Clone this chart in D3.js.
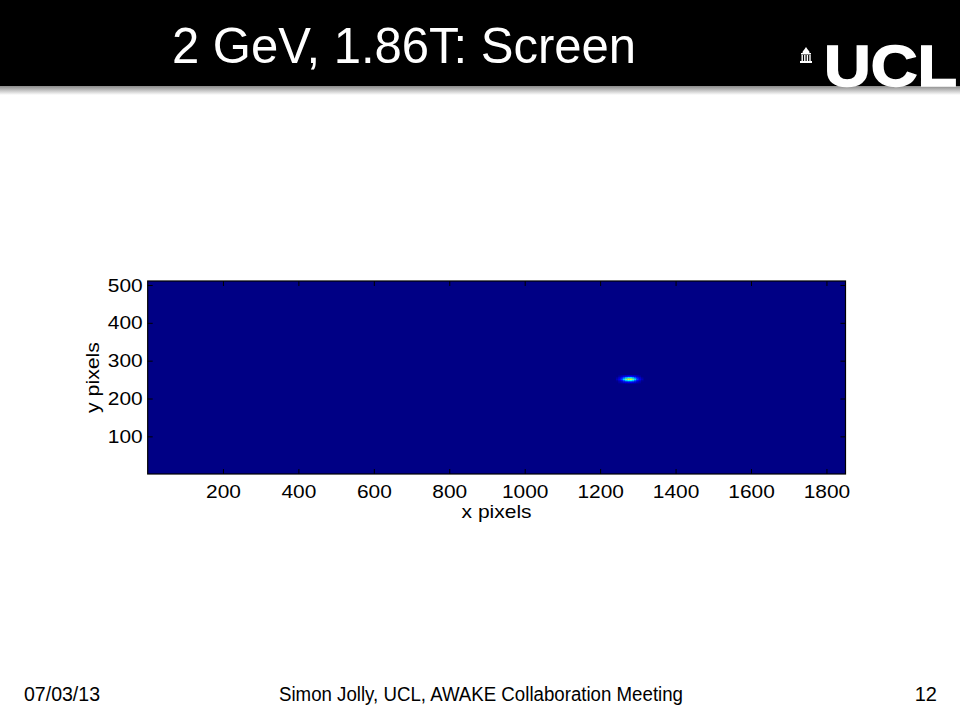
<!DOCTYPE html>
<html>
<head>
<meta charset="utf-8">
<script src="https://cdn.jsdelivr.net/npm/d3@7"></script>
<style>
  html, body { margin: 0; padding: 0; background: #fff; }
  svg { display: block; }
  text { font-family: "Liberation Sans", Arial, Helvetica, sans-serif; }
</style>
</head>
<body>
<svg id="chart" width="960" height="720"></svg>
<script>
// ---------------- data ----------------
const slideTitle = "2 GeV, 1.86T: Screen";
const footerDate = "07/03/13";
const footerText = "Simon Jolly, UCL, AWAKE Collaboration Meeting";
const pageNumber = "12";
const xLabel = "x pixels";
const yLabel = "y pixels";

// screen image size (pixels)
const imageWidth = 1850;
const imageHeight = 510;

const xTicks = [200, 400, 600, 800, 1000, 1200, 1400, 1600, 1800];
const yTicks = [100, 200, 300, 400, 500];

// beam spot: small intensity patch (normalised 0..1), rows top -> bottom
const spotX0 = 1242;      // left edge of patch (image px)
const spotY0 = 241;       // bottom edge of patch (image px)
const spotCellW = 6;      // image px per cell (x)
const spotCellH = 4;      // image px per cell (y)
const spotValues = [
  [0.00, 0.03, 0.06, 0.09, 0.11, 0.13, 0.13, 0.11, 0.09, 0.06, 0.03, 0.00],
  [0.02, 0.07, 0.13, 0.20, 0.28, 0.34, 0.34, 0.28, 0.20, 0.13, 0.07, 0.02],
  [0.05, 0.11, 0.19, 0.34, 0.48, 0.58, 0.58, 0.48, 0.34, 0.19, 0.11, 0.05],
  [0.02, 0.07, 0.13, 0.22, 0.32, 0.38, 0.38, 0.32, 0.22, 0.13, 0.07, 0.02],
  [0.00, 0.03, 0.05, 0.08, 0.10, 0.12, 0.12, 0.10, 0.08, 0.05, 0.03, 0.00]
];

// jet colormap stops
const jetStops = [0, 0.125, 0.375, 0.625, 0.875, 1];
const jetColors = ["#000085", "#0000ff", "#00ffff", "#ffff00", "#ff0000", "#800000"];

// ---------------- drawing ----------------
const svg = d3.select("#chart");

// header band with shadow
const defs = svg.append("defs");
const grad = defs.append("linearGradient").attr("id", "shadow")
  .attr("x1", 0).attr("y1", 0).attr("x2", 0).attr("y2", 1);
grad.append("stop").attr("offset", "0%").attr("stop-color", "#8a8a8a");
grad.append("stop").attr("offset", "100%").attr("stop-color", "#ffffff");

svg.append("rect").attr("x", 0).attr("y", 86).attr("width", 960).attr("height", 9)
  .attr("fill", "url(#shadow)");
svg.append("rect").attr("x", 0).attr("y", 0).attr("width", 960).attr("height", 86)
  .attr("fill", "#000");

svg.append("text")
  .attr("x", 172).attr("y", 63)
  .attr("font-size", 50)
  .attr("fill", "#fff")
  .attr("textLength", 464)
  .attr("lengthAdjust", "spacingAndGlyphs")
  .text(slideTitle);

// UCL logo: little portico icon + letters
const logo = svg.append("g").attr("fill", "#fff");
logo.append("path").attr("d", "M806,47 L808,50 L804,50 Z");
logo.append("path").attr("d", "M802.5,53 A3.5,3.5 0 0 1 809.5,53 Z");
logo.append("rect").attr("x", 801).attr("y", 53).attr("width", 10).attr("height", 1.5);
for (let i = 0; i < 4; i++) {
  logo.append("rect").attr("x", 801.5 + i * 2.6).attr("y", 55).attr("width", 1.4).attr("height", 6);
}
logo.append("rect").attr("x", 800).attr("y", 61).attr("width", 12).attr("height", 2);
logo.append("text")
  .attr("x", 824).attr("y", 86)
  .attr("font-size", 58)
  .attr("font-weight", "bold")
  .attr("stroke", "#fff").attr("stroke-width", 1.5)
  .attr("textLength", 133)
  .attr("lengthAdjust", "spacingAndGlyphs")
  .text("UCL");

// plot
const plotLeft = 147.7, plotRight = 845.5, plotTop = 281, plotBottom = 474;
const x = d3.scaleLinear().domain([0.5, imageWidth + 0.5]).range([plotLeft, plotRight]);
const y = d3.scaleLinear().domain([0.5, imageHeight + 0.5]).range([plotBottom, plotTop]);
const jet = d3.scaleLinear().domain(jetStops).range(jetColors).clamp(true);

const plot = svg.append("g");

// background (all-zero screen)
plot.append("rect")
  .attr("x", x(0.5)).attr("y", y(imageHeight + 0.5))
  .attr("width", x(imageWidth + 0.5) - x(0.5))
  .attr("height", y(0.5) - y(imageHeight + 0.5))
  .attr("fill", jet(0));

// spot cells
const cells = [];
spotValues.forEach((row, r) => {
  row.forEach((v, c) => {
    const x0 = spotX0 + c * spotCellW;
    const yTop = spotY0 + (spotValues.length - r) * spotCellH;
    cells.push({ x0, x1: x0 + spotCellW, y1: yTop, y0: yTop - spotCellH, v });
  });
});
plot.selectAll("rect.cell").data(cells).enter().append("rect")
  .attr("class", "cell")
  .attr("x", d => x(d.x0))
  .attr("y", d => y(d.y1))
  .attr("width", d => x(d.x1) - x(d.x0) + 0.3)
  .attr("height", d => y(d.y0) - y(d.y1) + 0.3)
  .attr("fill", d => jet(d.v))
  .attr("style", "filter: blur(0.6px)");

// axes (MATLAB style: ticks inward on all four sides)
const tickLen = 5;
const axisFont = 19;
const widen = 1.1;
const fmt = d3.format("d");

const xAxisB = d3.axisBottom(x).tickValues(xTicks).tickFormat(fmt).tickSizeInner(-tickLen).tickSizeOuter(0).tickPadding(11);
const xAxisT = d3.axisTop(x).tickValues(xTicks).tickSizeInner(-tickLen).tickSizeOuter(0).tickFormat("");
const yAxisL = d3.axisLeft(y).tickValues(yTicks).tickFormat(fmt).tickSizeInner(-tickLen).tickSizeOuter(0).tickPadding(5);
const yAxisR = d3.axisRight(y).tickValues(yTicks).tickSizeInner(-tickLen).tickSizeOuter(0).tickFormat("");

function styleAxis(g) {
  g.attr("font-size", axisFont).attr("font-family", "'Liberation Sans', Arial, Helvetica, sans-serif");
  g.select(".domain").remove();
  g.selectAll(".tick line").attr("stroke", "#000").attr("stroke-width", 1);
  g.selectAll(".tick text").attr("fill", "#000").style("font-size", axisFont + "px")
    .each(function () {
      const len = this.getComputedTextLength();
      if (len > 0) d3.select(this).attr("textLength", len * widen).attr("lengthAdjust", "spacingAndGlyphs");
    });
}

svg.append("g").attr("transform", `translate(0,${plotBottom})`).call(xAxisB).call(styleAxis);
svg.append("g").attr("transform", `translate(0,${plotTop})`).call(xAxisT).call(styleAxis);
svg.append("g").attr("transform", `translate(${plotLeft},0)`).call(yAxisL).call(styleAxis);
svg.append("g").attr("transform", `translate(${plotRight},0)`).call(yAxisR).call(styleAxis);

// box
svg.append("rect")
  .attr("x", plotLeft).attr("y", plotTop)
  .attr("width", plotRight - plotLeft).attr("height", plotBottom - plotTop)
  .attr("fill", "none").attr("stroke", "#000").attr("stroke-width", 1.2);

// axis labels
svg.append("text")
  .attr("x", (plotLeft + plotRight) / 2).attr("y", 518)
  .attr("text-anchor", "middle").attr("font-size", 18.5).attr("fill", "#000")
  .attr("textLength", 70).attr("lengthAdjust", "spacingAndGlyphs")
  .text(xLabel);
svg.append("text")
  .attr("transform", `translate(99,${(plotTop + plotBottom) / 2}) rotate(-90)`)
  .attr("text-anchor", "middle").attr("font-size", 18.5).attr("fill", "#000")
  .attr("textLength", 71).attr("lengthAdjust", "spacingAndGlyphs")
  .text(yLabel);

// footer
svg.append("text").attr("x", 24).attr("y", 701).attr("font-size", 20)
  .attr("fill", "#000").attr("textLength", 76).attr("lengthAdjust", "spacingAndGlyphs")
  .text(footerDate);
svg.append("text").attr("x", 279).attr("y", 701).attr("font-size", 20)
  .attr("fill", "#000").attr("textLength", 404).attr("lengthAdjust", "spacingAndGlyphs")
  .text(footerText);
svg.append("text").attr("x", 937).attr("y", 701).attr("font-size", 20)
  .attr("text-anchor", "end").attr("fill", "#000")
  .text(pageNumber);
</script>
</body>
</html>
